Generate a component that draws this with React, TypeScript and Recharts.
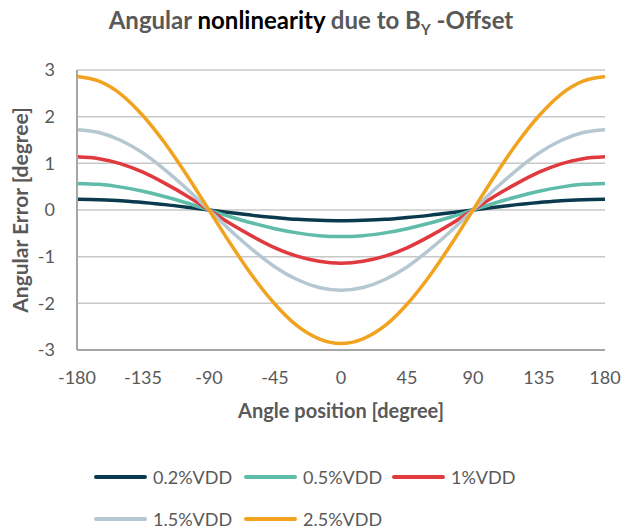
import React from "react";
import { LineChart, Line, XAxis, YAxis, CartesianGrid, Legend } from "recharts";

// angle positions (degree)
const angles = [
  -180, -165, -150, -135, -120, -105, -90, -75, -60, -45, -30, -15, 0,
  15, 30, 45, 60, 75, 90, 105, 120, 135, 150, 165, 180,
];

// angular error [degree] per offset level
const vdd02 = [
  0.23, 0.22, 0.2, 0.16, 0.115, 0.06, 0, -0.06, -0.115, -0.16, -0.2, -0.22, -0.23,
  -0.22, -0.2, -0.16, -0.115, -0.06, 0, 0.06, 0.115, 0.16, 0.2, 0.22, 0.23,
];
const vdd05 = [
  0.57, 0.55, 0.49, 0.4, 0.285, 0.15, 0, -0.15, -0.285, -0.4, -0.49, -0.55, -0.57,
  -0.55, -0.49, -0.4, -0.285, -0.15, 0, 0.15, 0.285, 0.4, 0.49, 0.55, 0.57,
];
const vdd1 = [
  1.14, 1.1, 0.99, 0.81, 0.57, 0.3, 0, -0.3, -0.57, -0.81, -0.99, -1.1, -1.14,
  -1.1, -0.99, -0.81, -0.57, -0.3, 0, 0.3, 0.57, 0.81, 0.99, 1.1, 1.14,
];
const vdd15 = [
  1.72, 1.66, 1.49, 1.22, 0.86, 0.45, 0, -0.45, -0.86, -1.22, -1.49, -1.66, -1.72,
  -1.66, -1.49, -1.22, -0.86, -0.45, 0, 0.45, 0.86, 1.22, 1.49, 1.66, 1.72,
];
const vdd25 = [
  2.86, 2.76, 2.48, 2.02, 1.43, 0.74, 0, -0.74, -1.43, -2.02, -2.48, -2.76, -2.86,
  -2.76, -2.48, -2.02, -1.43, -0.74, 0, 0.74, 1.43, 2.02, 2.48, 2.76, 2.86,
];

const seriesNames = ["0.2%VDD", "0.5%VDD", "1%VDD", "1.5%VDD", "2.5%VDD"];
const seriesKeys = ["v02", "v05", "v1", "v15", "v25"];
const seriesColors = ["#0B3A4F", "#5FBCA8", "#E0393E", "#B5C7D0", "#F1A31F"];

const xTicks = [-180, -135, -90, -45, 0, 45, 90, 135, 180];
const yTicks = [-3, -2, -1, 0, 1, 2, 3];

const data = angles.map((a, i) => ({
  angle: a,
  v02: vdd02[i],
  v05: vdd05[i],
  v1: vdd1[i],
  v15: vdd15[i],
  v25: vdd25[i],
}));

const FONT = "Lato, 'Open Sans', sans-serif";
const TEXT = "#595959";

// legend laid out like the Excel one: 3 columns, 2 rows
const legendCols = [94, 244, 392];
const legendRows = [477, 519];

function ChartLegend(props: any) {
  const items = props.payload || [];
  return (
    <div style={{ position: "relative", width: 622, height: 70 }}>
      {items.map((item: any, i: number) => {
        const left = legendCols[i % 3];
        const top = legendRows[Math.floor(i / 3)] - 462;
        return (
          <div
            key={item.value}
            style={{
              position: "absolute",
              left,
              top: top - 12,
              height: 24,
              display: "flex",
              alignItems: "center",
              fontFamily: FONT,
              fontSize: 18,
              color: TEXT,
              whiteSpace: "nowrap",
            }}
          >
            <span
              style={{
                display: "inline-block",
                width: 53,
                height: 4,
                borderRadius: 2,
                background: item.color,
                marginRight: 6,
              }}
            />
            {item.value}
          </div>
        );
      })}
    </div>
  );
}

export default function App() {
  return (
    <div style={{ position: "absolute", left: 0, top: 0, width: 622, height: 531, background: "#fff" }}>
      <div
        style={{
          position: "absolute",
          left: 0,
          top: 5,
          width: 622,
          textAlign: "center",
          fontFamily: FONT,
          fontWeight: 700,
          fontSize: 24,
          color: TEXT,
        }}
      >
        Angular <span style={{ color: "#000" }}>nonlinearity</span> due to B
        <sub style={{ fontSize: 15 }}>Y</sub> -Offset
      </div>
      <div
        style={{
          position: "absolute",
          left: 19,
          top: 210,
          transform: "translate(-50%, -50%) rotate(-90deg)",
          fontFamily: FONT,
          fontWeight: 700,
          fontSize: 21,
          color: TEXT,
          whiteSpace: "nowrap",
        }}
      >
        Angular Error [degree]
      </div>
      <div
        style={{
          position: "absolute",
          left: 0,
          top: 398,
          width: 682,
          textAlign: "center",
          fontFamily: FONT,
          fontWeight: 700,
          fontSize: 20,
          color: TEXT,
        }}
      >
        Angle position [degree]
      </div>
      <LineChart
        width={622}
        height={531}
        data={data}
        margin={{ top: 70, right: 17, bottom: 151, left: 0 }}
      >
        <CartesianGrid vertical={false} stroke="#C8C8C8" strokeWidth={1.5} />
        <XAxis
          type="number"
          dataKey="angle"
          domain={[-180, 180]}
          ticks={xTicks}
          height={30}
          tickLine={false}
          tickSize={0}
          tickMargin={21}
          axisLine={{ stroke: "#A6A6A6", strokeWidth: 2 }}
          tick={{ fill: TEXT, fontSize: 18, fontFamily: FONT }}
        />
        <YAxis
          type="number"
          domain={[-3, 3]}
          ticks={yTicks}
          width={77}
          tickLine={false}
          tickSize={0}
          tickMargin={22}
          axisLine={{ stroke: "#A6A6A6", strokeWidth: 2 }}
          tick={{ fill: TEXT, fontSize: 18, fontFamily: FONT }}
        />
        <Legend
          layout="horizontal"
          verticalAlign="middle"
          align="center"
          wrapperStyle={{ top: 462, left: 0, width: 622 }}
          content={ChartLegend}
        />
        {seriesKeys.map((k, i) => (
          <Line
            key={k}
            type="monotone"
            dataKey={k}
            name={seriesNames[i]}
            stroke={seriesColors[i]}
            strokeWidth={3.5}
            dot={false}
            isAnimationActive={false}
          />
        ))}
      </LineChart>
    </div>
  );
}
